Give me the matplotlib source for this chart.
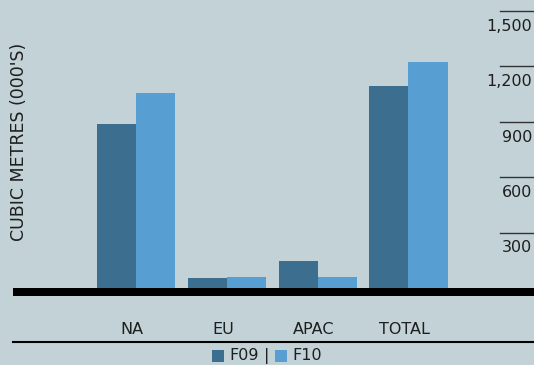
import matplotlib
matplotlib.use("Agg")
import matplotlib.pyplot as plt
from matplotlib.patches import Rectangle
from matplotlib.lines import Line2D
import numpy as np

regions = ["NA", "EU", "APAC", "TOTAL"]
f09 = [890, 54, 146, 1094]
f10 = [1056, 60, 60, 1224]
yticks = [300, 600, 900, 1200, 1500]
ylabel = "CUBIC METRES (000'S)"

bg = "#c2d2d6"
dark = "#3c6e8f"
light = "#579fd2"
txt = "#1e1e1e"

plt.rcParams["font.family"] = ["DejaVu Sans"]

W, H = 534, 365
fig = plt.figure(figsize=(W / 100, H / 100), dpi=100, facecolor=bg)

# axes spans pixel x 13..534, y 0..288 (zero line)
ax = fig.add_axes([13 / W, 1 - 288 / H, (534 - 13) / W, 288 / H])
ax.set_facecolor(bg)
for s in ax.spines.values():
    s.set_visible(False)

x = np.arange(len(regions))
bw = 0.43
ax.bar(x - bw / 2, f09, bw, color=dark, align="center", linewidth=0)
ax.bar(x + bw / 2, f10, bw, color=light, align="center", linewidth=0)
ax.set_xlim(-1.355, 4.382)
ax.set_ylim(0, 1559)

ax.set_yticks([])
ax.set_xticks(x - 0.04)
ax.set_xticklabels(regions, fontsize=11.5, color=txt)
ax.tick_params(axis="x", length=0, pad=24.5)

# right-side value markers
tr = ax.get_yaxis_transform()
for v in yticks:
    ax.plot([0.935, 0.998], [v, v], transform=tr, color="#333333", lw=1, clip_on=False)
    ax.annotate(f"{v:,}", xy=(0.997, v), xycoords=tr, xytext=(0, -11),
                textcoords="offset points", ha="right", va="center",
                fontsize=11.5, color=txt)

# thick baseline
fig.add_artist(Rectangle((13 / W, 1 - 296 / H), (W - 13) / W, 8 / H,
                         transform=fig.transFigure, color="black", lw=0))
# thin line under category labels
fig.add_artist(Line2D([13 / W, 1], [1 - 342 / H, 1 - 342 / H],
                      transform=fig.transFigure, color="black", lw=1.5))

fig.text(19 / W, 1 - 142 / H, ylabel, rotation=90, ha="center", va="center",
         fontsize=12.5, color=txt)

# legend
ly = 1 - 356 / H
fig.add_artist(Rectangle((212 / W, ly - 6 / H), 12 / W, 12 / H,
                         transform=fig.transFigure, color=dark, lw=0))
fig.text(229 / W, ly, "F09", ha="left", va="center", fontsize=11.5, color=txt)
fig.text(267 / W, ly, "|", ha="center", va="center", fontsize=11.5, color=txt)
fig.add_artist(Rectangle((275 / W, ly - 6 / H), 12 / W, 12 / H,
                         transform=fig.transFigure, color=light, lw=0))
fig.text(292 / W, ly, "F10", ha="left", va="center", fontsize=11.5, color=txt)

fig.savefig("out.png", dpi=100, facecolor=bg)
